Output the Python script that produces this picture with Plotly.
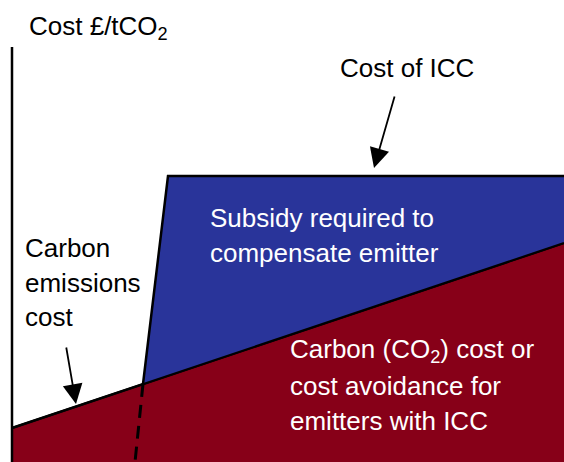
import numpy as np
import plotly.graph_objects as go

# Conceptual cost curves (x: output scale, y: cost £/tCO2), canvas units
x_carbon = [12, 564]
carbon_cost = [34, 219]
x_icc = [143, 168, 564]
icc_cost = [78, 286, 286]
x_threshold = [143, 135]
y_threshold = [78, 0]
x_axis = [12, 12]
y_axis = [0, 415]

BLUE = "#29349A"
RED = "#870018"
FONT = "Liberation Sans, Arial, sans-serif"

fig = go.Figure()

# red area under carbon cost line
fig.add_trace(go.Scatter(x=x_carbon, y=carbon_cost, mode="lines",
                         line=dict(color="black", width=2.5),
                         fill="tozeroy", fillcolor=RED, hoverinfo="skip"))

# blue subsidy area between ICC cost and carbon cost
c_start = float(np.interp(x_icc[0], x_carbon, carbon_cost))
c_end = float(np.interp(x_icc[-1], x_carbon, carbon_cost))
bx = list(x_icc) + [x_icc[-1], x_icc[0]]
by = list(icc_cost) + [c_end, c_start]
fig.add_trace(go.Scatter(x=bx, y=by, mode="lines", line=dict(width=0),
                         fill="toself", fillcolor=BLUE, hoverinfo="skip"))
fig.add_trace(go.Scatter(x=x_icc, y=icc_cost, mode="lines",
                         line=dict(color="black", width=2.5), hoverinfo="skip"))
fig.add_trace(go.Scatter(x=x_carbon, y=carbon_cost, mode="lines",
                         line=dict(color="black", width=2), hoverinfo="skip"))

# dashed threshold
fig.add_trace(go.Scatter(x=x_threshold, y=y_threshold, mode="lines",
                         line=dict(color="black", width=3, dash="13px,8px"),
                         hoverinfo="skip"))
# vertical axis
fig.add_trace(go.Scatter(x=x_axis, y=y_axis, mode="lines",
                         line=dict(color="black", width=2.5), hoverinfo="skip"))

H = 462

def txt(x, yc, s, color="black"):
    fig.add_annotation(x=x, y=H - yc, text=s, showarrow=False, xanchor="left",
                       yanchor="middle", font=dict(family=FONT, size=26, color=color))

txt(27, 27, "Cost £/tCO<sub>2</sub>")
txt(338, 68, "Cost of ICC")
txt(23, 248, "Carbon")
txt(23, 283, "emissions")
txt(23, 317, "cost")
txt(208, 218, "Subsidy required to", "white")
txt(208, 253, "compensate emitter", "white")
txt(288, 350, "Carbon (CO<sub>2</sub>) cost or", "white")
txt(288, 386, "cost avoidance for", "white")
txt(288, 421, "emitters with ICC", "white")

# arrows
for (hx, hy, tx, ty) in [(374, 168, 395, 95), (76, 404, 66, 346)]:
    fig.add_annotation(x=hx, y=H - hy, ax=tx, ay=H - ty, axref="x", ayref="y",
                       xref="x", yref="y", text="", showarrow=True,
                       arrowhead=2, arrowsize=2.2, arrowwidth=1.8, arrowcolor="black")

fig.update_layout(width=564, height=462, autosize=False,
                  margin=dict(l=0, r=0, t=0, b=0),
                  paper_bgcolor="white", plot_bgcolor="white", showlegend=False,
                  xaxis=dict(range=[0, 564], visible=False, fixedrange=True),
                  yaxis=dict(range=[0, 462], visible=False, fixedrange=True))

fig.write_html("out.html", config={"displayModeBar": False},
               post_script="document.body.style.margin='0';document.body.style.overflow='hidden';")
